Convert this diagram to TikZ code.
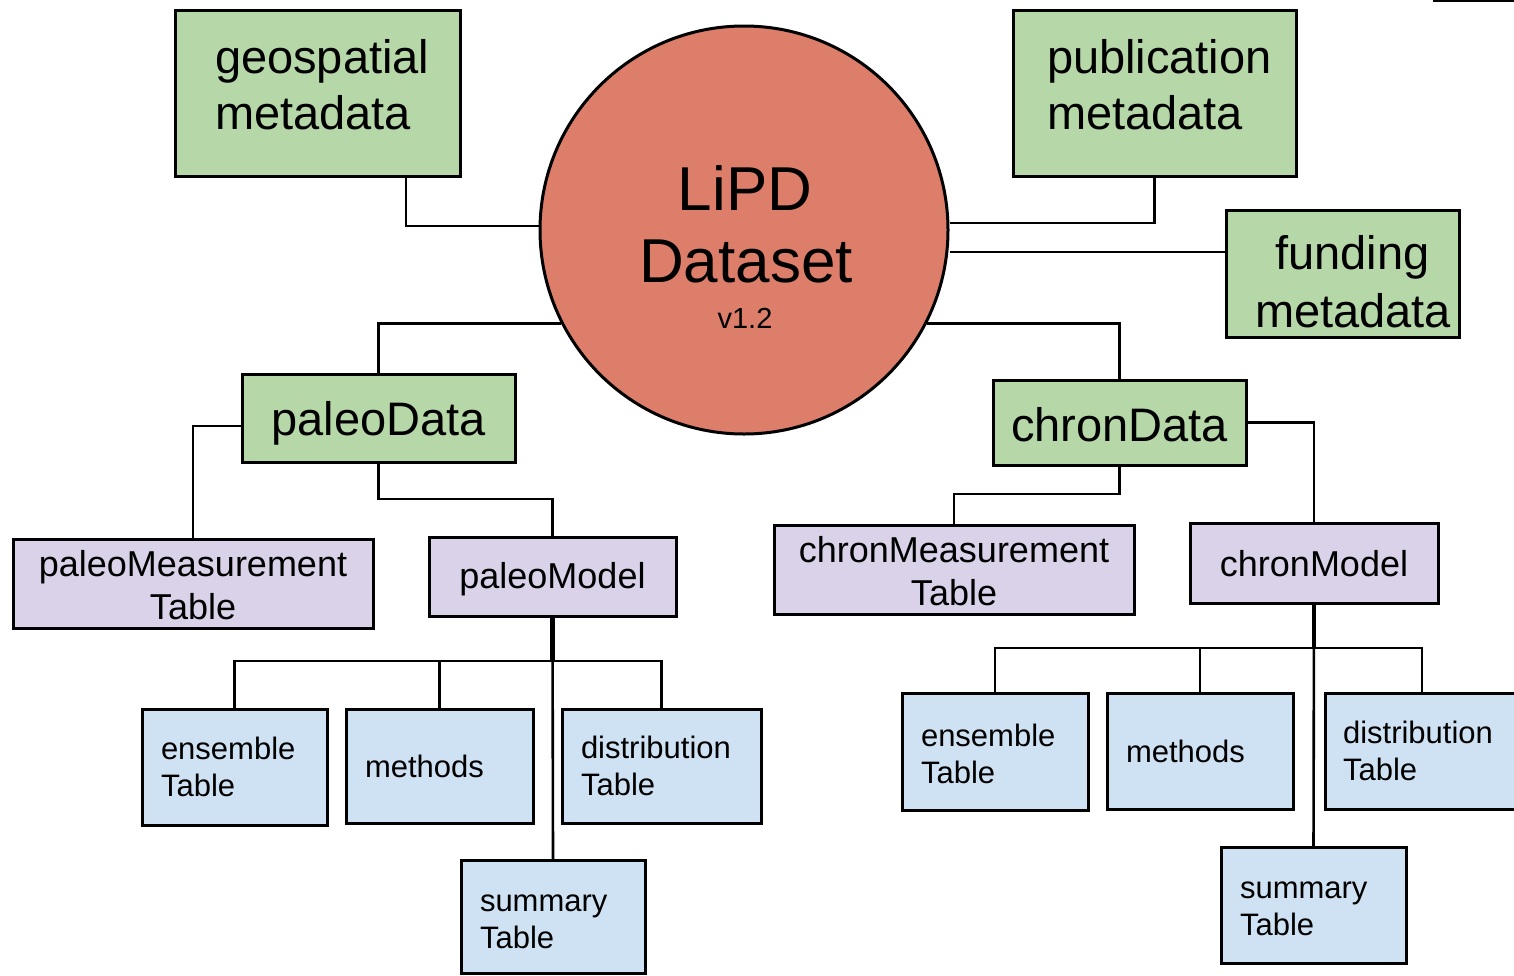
\documentclass[tikz,border=0pt]{standalone}
\usepackage{fontspec}
\setmainfont{Liberation Sans}
\definecolor{gfill}{HTML}{B6D7A8}
\definecolor{rfill}{HTML}{DD7E6B}
\definecolor{pfill}{HTML}{D9D2E9}
\definecolor{bfill}{HTML}{CFE2F3}
\newcommand{\txtup}[2]{\raisebox{#1}[\height][\depth]{#2}}
\begin{document}
\begin{tikzpicture}[x=1pt,y=-1pt,
  conn/.style={line width=2.6pt},
  bx/.style={draw=black, line width=3pt, rectangle, anchor=north west, inner ysep=0pt, outer sep=0pt},
  gbox/.style={bx, fill=gfill, font=\fontsize{47}{56}\selectfont},
  pbox/.style={bx, fill=pfill, font=\fontsize{36}{43}\selectfont, align=center, inner xsep=0pt},
  bbox/.style={bx, fill=bfill, font=\fontsize{31}{37}\selectfont, inner xsep=19pt},
]
\useasboundingbox (0,0) rectangle (1514,975);

% green boxes
\node[gbox, minimum width=285pt, minimum height=166pt, inner xsep=40pt] (geo) at (175,10) {\txtup{8pt}{\parbox{205pt}{\raggedright\mbox{geospatial}\\metadata}}};
\node[gbox, minimum width=283pt, minimum height=166pt, inner xsep=34pt] (pub) at (1013,10) {\txtup{8.5pt}{\parbox{215pt}{\raggedright\mbox{publication}\\metadata}}};
\node[gbox, minimum width=233pt, minimum height=127pt, inner xsep=0pt, font=\fontsize{47}{58}\selectfont] (fund) at (1226,210) {\txtup{-8pt}{\hspace*{20pt}\parbox{195pt}{\centering funding\\metadata}}};
\node[gbox, minimum width=273pt, minimum height=88pt, inner xsep=0pt] (paleo) at (242,374) {\txtup{-5pt}{paleoData}};
\node[gbox, minimum width=253pt, minimum height=85pt, inner xsep=0pt] (chd) at (993,380) {\txtup{-2pt}{chronData}};

% central circle
\node[circle, draw=black, line width=3pt, fill=rfill, minimum size=408pt, inner sep=0pt] (lipd) at (744,230) {};
\node[anchor=base, font=\fontsize{62}{73}\selectfont] (lipdA) at (745,210) {LiPD};
\node[anchor=base, font=\fontsize{62}{73}\selectfont] (lipdB) at (746,282) {Dataset};
\node[anchor=base, font=\fontsize{29}{35}\selectfont] (lipdC) at (745,328) {v1.2};

% purple boxes
\node[pbox, minimum width=360pt, minimum height=89pt] (pmt) at (13,539) {\txtup{-2pt}{\parbox{340pt}{\centering paleoMeasurement\\Table}}};
\node[pbox, minimum width=247pt, minimum height=79pt] (pmod) at (429,537) {\txtup{-3pt}{paleoModel}};
\node[pbox, minimum width=360pt, minimum height=89pt] (cmt) at (774,525) {\txtup{-2pt}{\parbox{340pt}{\centering chronMeasurement\\Table}}};
\node[pbox, minimum width=248pt, minimum height=80pt] (cmod) at (1190,523) {\txtup{-1pt}{chronModel}};

% blue boxes (paleo)
\node[bbox, minimum width=185pt, minimum height=116pt] (pens) at (142,709) {\parbox{147pt}{ensemble\\Table}};
\node[bbox, minimum width=187pt, minimum height=114pt] (pmet) at (346,709) {\parbox{149pt}{methods}};
\node[bbox, minimum width=199pt, minimum height=114pt] (pdis) at (562,709) {\parbox{161pt}{distribution\\Table}};
\node[bbox, minimum width=184pt, minimum height=113pt] (psum) at (461,860) {\txtup{-5pt}{\parbox{146pt}{summary\\Table}}};

% blue boxes (chron)
\node[bbox, minimum width=186pt, minimum height=117pt] (cens) at (902,693) {\txtup{-2pt}{\parbox{148pt}{ensemble\\Table}}};
\node[bbox, minimum width=186pt, minimum height=116pt] (cmet) at (1107,693) {\parbox{148pt}{methods}};
\node[bbox, minimum width=194pt, minimum height=116pt, inner xsep=18pt] (cdis) at (1325,693) {\parbox{158pt}{distribution\\Table}};
\node[bbox, minimum width=185pt, minimum height=116pt] (csum) at (1221,847) {\txtup{-4pt}{\parbox{147pt}{summary\\Table}}};

% connectors
\draw[conn] ([xshift=88.5pt]geo.south) |- ([yshift=4pt]lipd.west);
\draw[conn] (pub.south) |- ([yshift=7pt]lipd.east);
\draw[conn] ([yshift=-22pt]lipd.east) -- ([yshift=21.5pt]fund.west);
\draw[conn] (lipd.207.1) -| (paleo.north);
\draw[conn] (lipd.-27.1) -| (chd.north);

\draw[conn] ([yshift=-8pt]paleo.west) -| (pmt.north);
\draw[conn] (paleo.south) -- ++(0,37) -| (pmod.north);
\draw[conn, line width=4.5pt] (pmod.south) -- ++(0,45);
\draw[conn] (pmod.south) -- (psum.north);
\draw[conn] (pmod.south) -- ++(0,45) -| (pens.north);
\draw[conn] (pmod.south) -- ++(0,45) -| (pmet.north);
\draw[conn] (pmod.south) -- ++(0,45) -| (pdis.north);

\draw[conn] (chd.east) -| (cmod.north);
\draw[conn] (chd.south) -- ++(0,29) -| (cmt.north);
\draw[conn, line width=4.5pt] (cmod.south) -- ++(0,45);
\draw[conn] (cmod.south) -- (csum.north);
\draw[conn] (cmod.south) -- ++(0,45) -| (cens.north);
\draw[conn] (cmod.south) -- ++(0,45) -| (cmet.north);
\draw[conn] (cmod.south) -- ++(0,45) -| (cdis.north);

% stray line at top right
\draw[line width=2pt] (1433,1) -- (1514,1);
\end{tikzpicture}
\end{document}
